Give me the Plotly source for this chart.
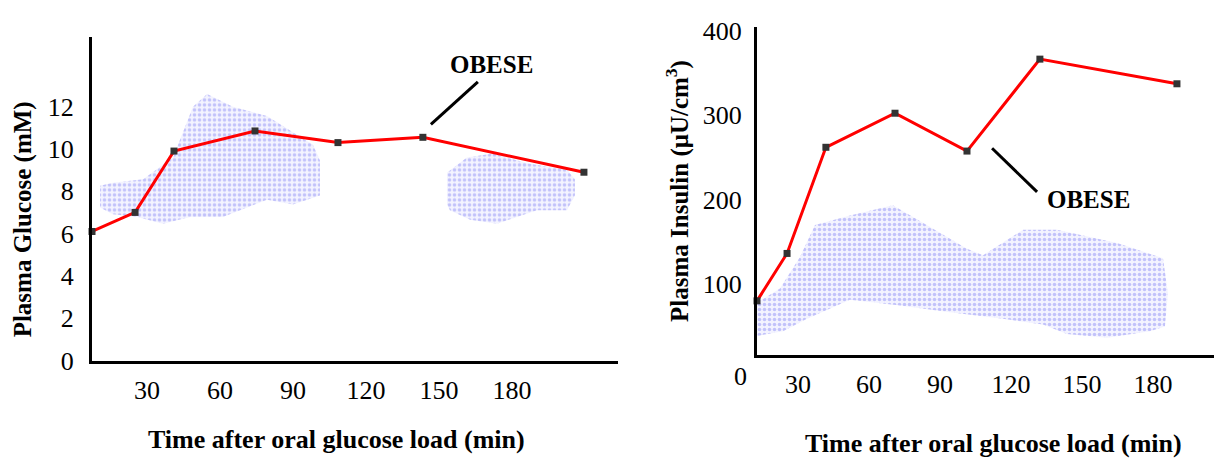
import plotly.graph_objects as go

# ---------------- data ----------------
glu_time = [7.4, 25.1, 41.1, 74.4, 108.5, 143.4, 209.6]
glu_val = [6.1, 7.0, 9.9, 10.85, 10.3, 10.55, 8.9]

ins_time = [12.7, 25.4, 41.8, 71.0, 101.4, 132.2, 190.1]
ins_val = [79.4, 135.8, 262.0, 302.5, 257.5, 366.8, 337.5]

# background (non-obese) clouds, outlines
glu_cloud1_t = [10.7, 16.0, 28.4, 40.7, 48.9, 54.7, 65.3, 79.3, 98.2, 101.1, 101.1, 90.0, 79.3, 61.2, 47.7, 36.6, 25.9, 16.0, 10.7]
glu_cloud1_v = [8.26, 8.4, 8.57, 9.6, 12.0, 12.6, 12.0, 11.56, 10.2, 9.46, 7.8, 7.37, 7.6, 6.79, 6.79, 6.47, 6.79, 6.92, 7.23]
glu_cloud2_t = [153.3, 161.5, 172.2, 186.2, 202.6, 205.9, 205.9, 202.6, 190.3, 173.9, 162.8, 154.5, 153.3]
glu_cloud2_v = [8.88, 9.6, 9.78, 9.33, 9.02, 8.57, 7.81, 7.1, 7.1, 6.47, 6.65, 7.1, 7.37]

ins_cloud_t = [12.7, 22.4, 30.8, 37.2, 52.0, 70.1, 85.8, 101.4, 108.2, 125.1, 139.4, 164.8, 184.2, 186.3,
               185.0, 178.7, 160.5, 143.6, 133.5, 116.6, 94.2, 73.1, 52.0, 33.8, 23.7, 12.7]
ins_cloud_v = [77.2, 94.1, 131.3, 169.6, 180.8, 193.2, 167.3, 141.4, 133.5, 163.9, 163.9, 148.2, 130.1, 88.5,
               49.0, 43.4, 35.5, 40.0, 51.3, 58.0, 65.9, 73.8, 80.6, 58.0, 43.4, 37.7]

x_ticks = [30, 60, 90, 120, 150, 180]
glu_ticks = [0, 2, 4, 6, 8, 10, 12]
ins_ticks = [100, 200, 300, 400]

# ---------------- figure ----------------
W, H = 1214, 458
FONT = "Liberation Serif, Times New Roman, serif"
fig = go.Figure()

cloud_style = dict(
    mode="lines", fill="toself", line=dict(width=0, color="rgba(0,0,0,0)"),
    fillcolor="rgba(180,180,255,0.25)",
    fillpattern=dict(shape=".", fgcolor="rgba(135,135,245,0.9)", bgcolor="rgba(200,200,255,0.22)",
                     size=5, solidity=0.4),
    hoverinfo="skip", showlegend=False,
)

fig.add_trace(go.Scatter(x=glu_cloud1_t, y=glu_cloud1_v, xaxis="x", yaxis="y", **cloud_style))
fig.add_trace(go.Scatter(x=glu_cloud2_t, y=glu_cloud2_v, xaxis="x", yaxis="y", **cloud_style))
fig.add_trace(go.Scatter(x=ins_cloud_t, y=ins_cloud_v, xaxis="x2", yaxis="y2", **cloud_style))

line_style = dict(
    mode="lines+markers", line=dict(color="#ff0000", width=3),
    marker=dict(symbol="square", size=7, color="#333333", line=dict(width=0)),
    cliponaxis=False, showlegend=False,
)
fig.add_trace(go.Scatter(x=glu_time, y=glu_val, xaxis="x", yaxis="y", **line_style))
fig.add_trace(go.Scatter(x=ins_time, y=ins_val, xaxis="x2", yaxis="y2", **line_style))

TICK = dict(family=FONT, size=26, color="black")
axis_common = dict(
    showgrid=False, zeroline=False, showline=True, linecolor="black", linewidth=3,
    ticks="", tickfont=TICK, fixedrange=True,
)

fig.update_layout(
    width=W, height=H, margin=dict(l=0, r=0, t=0, b=0),
    paper_bgcolor="white", plot_bgcolor="white",
    font=dict(family=FONT, color="black"),
    xaxis=dict(domain=[92 / W, 618 / W], range=[7.4, 223.6], tickvals=x_ticks,
               anchor="y", ticklabelstandoff=4, **axis_common),
    yaxis=dict(domain=[(H - 371) / H, (H - 30) / H], range=[0, 15.27], tickvals=glu_ticks,
               anchor="x", ticklabelstandoff=10, **axis_common),
    xaxis2=dict(domain=[757 / W, 1.0], range=[12.7, 205.75], tickvals=x_ticks,
                anchor="y2", ticklabelstandoff=4, **axis_common),
    yaxis2=dict(domain=[(H - 365) / H, (H - 19) / H], range=[15.2, 405], tickvals=ins_ticks,
                anchor="x2", ticklabelstandoff=7, **axis_common),
)

xt_font = dict(family=FONT, size=26, color="black")
yt_font = dict(family=FONT, size=25, color="black")
annotations = [
    dict(text="<b>Time after oral glucose load (min)</b>", xref="paper", yref="paper",
         x=337 / W, y=1 - 454 / H, showarrow=False, font=xt_font, xanchor="center", yanchor="middle"),
    dict(text="<b>Time after oral glucose load (min)</b>", xref="paper", yref="paper",
         x=993 / W, y=1 - 459 / H, showarrow=False, font=xt_font, xanchor="center", yanchor="middle"),
    dict(text="<b>Plasma Glucose (mM)</b>", xref="paper", yref="paper", textangle=-90,
         x=23 / W, y=1 - 222 / H, showarrow=False, font=yt_font, xanchor="center", yanchor="middle"),
    dict(text="<b>Plasma Insulin (\u03bcU/cm<sup>3</sup>)</b>", xref="paper", yref="paper", textangle=-90,
         x=678 / W, y=1 - 192 / H, showarrow=False, font=yt_font, xanchor="center", yanchor="middle"),
    dict(text="0", xref="paper", yref="paper", x=740 / W, y=1 - 388 / H, showarrow=False,
         font=TICK, xanchor="center", yanchor="middle"),
    dict(text="<b>OBESE</b>", xref="x", yref="y", x=171.8, y=14.0, showarrow=False,
         font=dict(family=FONT, size=25, color="black"), xanchor="center", yanchor="middle"),
    dict(text="<b>OBESE</b>", xref="x2", yref="y2", x=152.9, y=200.0, showarrow=False,
         font=dict(family=FONT, size=25, color="black"), xanchor="center", yanchor="middle"),
]
fig.update_layout(annotations=annotations)

fig.add_shape(type="line", xref="x", yref="y", x0=166.0, y0=13.17, x1=146.7, y1=11.16,
              line=dict(color="black", width=3))
fig.add_shape(type="line", xref="x2", yref="y2", x0=112.0, y0=260.8, x1=131.0, y1=209.0,
              line=dict(color="black", width=3))

fig.write_html("out.html", config={"displayModeBar": False})
